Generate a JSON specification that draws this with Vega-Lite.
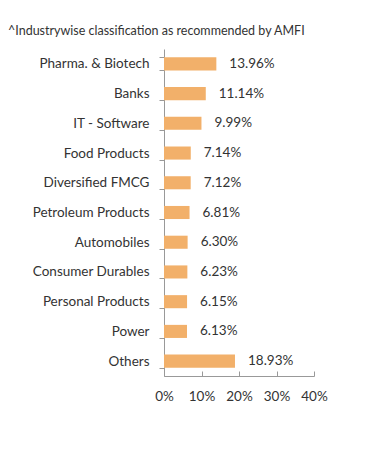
{
  "$schema": "https://vega.github.io/schema/vega-lite/v6.json",
  "width": 150,
  "height": 327,
  "padding": {"left": 8, "top": 24, "right": 5, "bottom": 5},
  "background": "white",
  "title": {
    "text": "^Industrywise classification as recommended by AMFI",
    "anchor": "start",
    "frame": "bounds",
    "fontSize": 12.5,
    "font": "Lato",
    "fontWeight": "normal",
    "color": "#333333",
    "offset": 5
  },
  "data": {
    "values": [
      {"sector": "Pharma. & Biotech", "value": 13.96},
      {"sector": "Banks", "value": 11.14},
      {"sector": "IT - Software", "value": 9.99},
      {"sector": "Food Products", "value": 7.14},
      {"sector": "Diversified FMCG", "value": 7.12},
      {"sector": "Petroleum Products", "value": 6.81},
      {"sector": "Automobiles", "value": 6.30},
      {"sector": "Consumer Durables", "value": 6.23},
      {"sector": "Personal Products", "value": 6.15},
      {"sector": "Power", "value": 6.13},
      {"sector": "Others", "value": 18.93}
    ]
  },
  "transform": [
    {"calculate": "format(datum.value, '.2f') + '%'", "as": "label"}
  ],
  "encoding": {
    "y": {
      "field": "sector",
      "type": "nominal",
      "sort": null,
      "scale": {"paddingInner": 0.56, "paddingOuter": 0.28},
      "axis": {
        "title": null,
        "labelFont": "Lato",
        "labelFontSize": 13.5,
        "labelColor": "#333333",
        "domainColor": "#999999",
        "tickColor": "#999999",
        "tickSize": 5,
        "tickBand": "extent",
        "labelPadding": 10,
        "minExtent": 156,
        "maxExtent": 156
      }
    },
    "x": {
      "field": "value",
      "type": "quantitative",
      "scale": {"domain": [0, 40]},
      "axis": {
        "title": null,
        "values": [0, 10, 20, 30, 40],
        "labelExpr": "datum.value + '%'",
        "labelFont": "Lato",
        "labelFontSize": 13.5,
        "labelColor": "#333333",
        "labelOverlap": false,
        "labelFlush": false,
        "domainColor": "#999999",
        "tickColor": "#999999",
        "tickSize": -5,
        "labelPadding": 18,
        "grid": false
      }
    }
  },
  "layer": [
    {"mark": {"type": "bar", "color": "#F2B06A"}},
    {
      "mark": {"type": "text", "align": "left", "dx": 13, "font": "Lato", "fontSize": 13.5, "color": "#333333"},
      "encoding": {"text": {"field": "label", "type": "nominal"}}
    }
  ],
  "config": {"view": {"stroke": null}}
}
